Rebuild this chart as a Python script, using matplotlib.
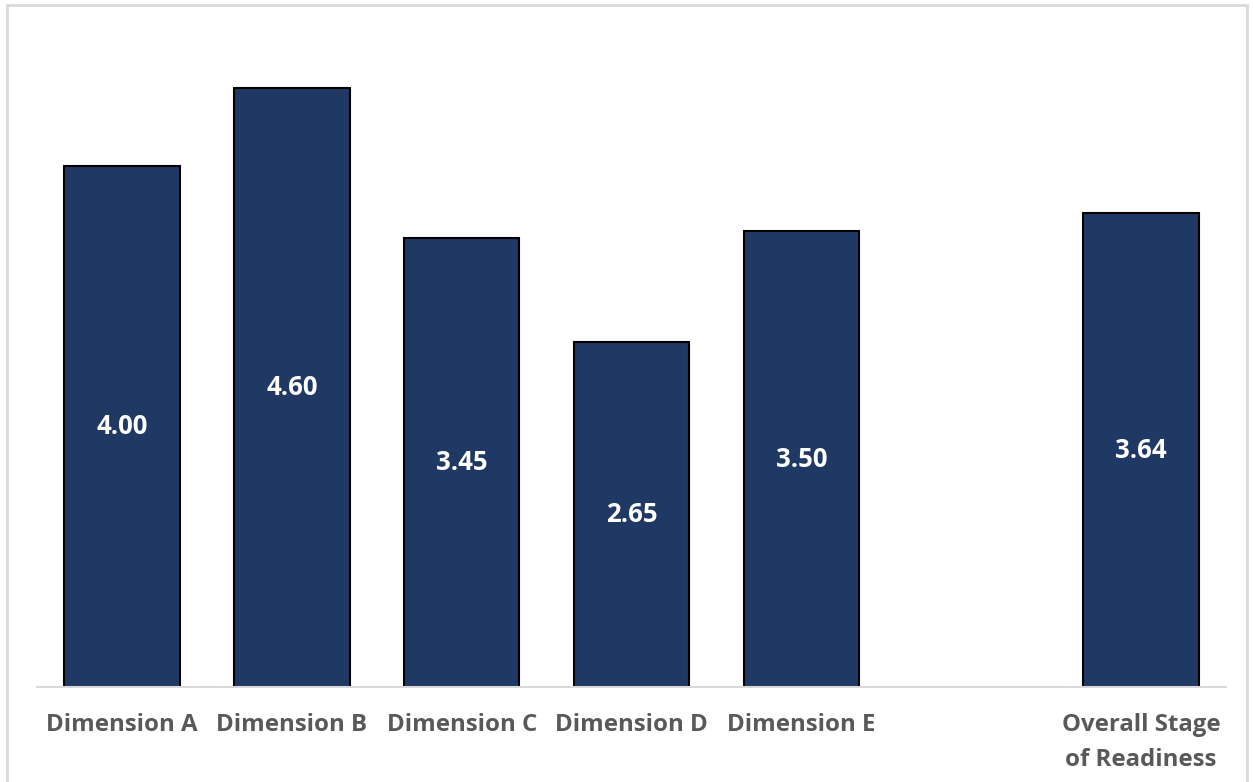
import matplotlib.pyplot as plt
from matplotlib.patches import Rectangle

plt.rcParams['font.family'] = ['Open Sans', 'DejaVu Sans']

categories = ["Dimension A", "Dimension B", "Dimension C", "Dimension D",
              "Dimension E", "", "Overall Stage\nof Readiness"]
scores = [4.00, 4.60, 3.45, 2.65, 3.50, None, 3.64]

BAR_COLOR = "#203864"
TEXT_GRAY = "#595959"

fig = plt.figure(figsize=(12.53, 7.82), dpi=100)
ax = fig.add_axes([37 / 1253, 1 - 687 / 782, (1226 - 37) / 1253, 651 / 782])

# chart area border
fig.patches.append(Rectangle((7 / 1253, -0.05), (1247 - 7) / 1253, 1 - 5 / 782 + 0.05,
                             transform=fig.transFigure, fill=False,
                             edgecolor="#D9D9D9", linewidth=2))

xs = [i for i, v in enumerate(scores) if v is not None]
vals = [v for v in scores if v is not None]
bars = ax.bar(xs, vals, width=0.68, color=BAR_COLOR, edgecolor="black", linewidth=1.5, zorder=2)

for b, v in zip(bars, vals):
    ax.text(b.get_x() + b.get_width() / 2, v / 2, f"{v:.2f}", ha="center", va="center",
            color="white", fontsize=18.5, fontweight="bold")

ax.set_xlim(-0.5, 6.5)
ax.set_ylim(0, 5)
ax.set_xticks(range(len(categories)))
ax.set_xticklabels(categories, fontsize=17.3, fontweight="bold", color=TEXT_GRAY, linespacing=1.62)
ax.tick_params(axis="x", length=0, pad=18.5)
ax.set_yticks([])
for side in ("top", "left", "right"):
    ax.spines[side].set_visible(False)
ax.spines["bottom"].set_color("#D9D9D9")
ax.spines["bottom"].set_linewidth(1.5)

fig.savefig("out.png", dpi=100)
